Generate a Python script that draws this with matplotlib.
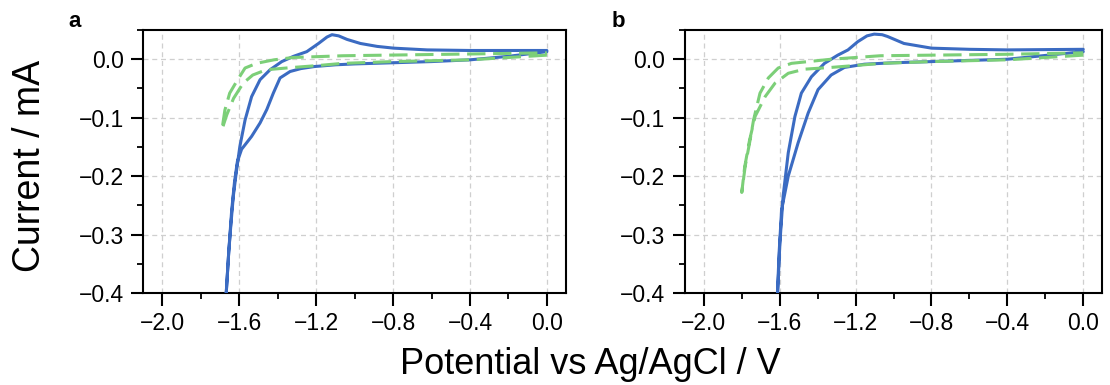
import numpy as np
import matplotlib
matplotlib.use('Agg')
import matplotlib.pyplot as plt
from matplotlib.ticker import MultipleLocator

plt.rcParams['font.family'] = ['Liberation Sans', 'DejaVu Sans']

# panel a, blue (solid) CV: cathodic sweep then anodic sweep
a_blue_x = [0.0, -0.2, -0.4, -0.6, -0.8, -1.0, -1.1, -1.21, -1.28, -1.336, -1.388, -1.423,
            -1.457, -1.492, -1.536, -1.588, -1.61, -1.625, -1.64, -1.655, -1.668, -1.675,
            -1.668, -1.655, -1.643, -1.631, -1.614, -1.597, -1.57, -1.536, -1.492, -1.44,
            -1.379, -1.318, -1.249, -1.188, -1.144, -1.118, -1.083, -1.04, -0.97, -0.883,
            -0.797, -0.623, -0.4, -0.2, 0.0]
a_blue_y = [0.013, 0.005, -0.001, -0.004, -0.006, -0.008, -0.0095, -0.0125, -0.016, -0.021,
            -0.032, -0.058, -0.086, -0.109, -0.132, -0.154, -0.175, -0.21, -0.26, -0.33,
            -0.4, -0.44,
            -0.4, -0.33, -0.28, -0.234, -0.189, -0.149, -0.104, -0.064, -0.035, -0.018,
            -0.004, 0.005, 0.013, 0.027, 0.038, 0.042, 0.040, 0.034, 0.027, 0.022,
            0.019, 0.016, 0.015, 0.015, 0.015]

# panel a, green (dashed) CV
a_green_x = [0.0, -0.4, -0.8, -1.06, -1.2, -1.32, -1.46, -1.53, -1.58, -1.63, -1.665, -1.69,
             -1.675, -1.65, -1.614, -1.57, -1.51, -1.42, -1.32, -1.06, -0.4, 0.0]
a_green_y = [0.007, -0.001, -0.004, -0.007, -0.011, -0.014, -0.018, -0.027, -0.041, -0.067,
             -0.095, -0.12,
             -0.087, -0.058, -0.038, -0.015, -0.007, -0.001, 0.003, 0.006, 0.009, 0.011]

# panel b, blue (solid) CV
b_blue_x = [0.0, -0.4, -0.8, -1.0, -1.154, -1.259, -1.329, -1.398, -1.45, -1.503, -1.555,
            -1.59, -1.603, -1.612, -1.616,
            -1.611, -1.599, -1.582, -1.555, -1.52, -1.486, -1.433, -1.364, -1.294, -1.24,
            -1.189, -1.14, -1.102, -1.06, -1.032, -0.945, -0.8, -0.6, -0.4, 0.0]
b_blue_y = [0.013, 0.0, -0.004, -0.006, -0.0085, -0.014, -0.027, -0.052, -0.092, -0.143,
            -0.2, -0.257, -0.33, -0.4, -0.44,
            -0.4, -0.314, -0.234, -0.16, -0.098, -0.058, -0.030, -0.007, 0.007, 0.016,
            0.030, 0.040, 0.043, 0.042, 0.039, 0.027, 0.019, 0.017, 0.016, 0.017]

# panel b, green (dashed) CV
b_green_x = [0.0, -0.4, -0.8, -1.06, -1.33, -1.47, -1.555, -1.625, -1.677, -1.73, -1.76,
             -1.785, -1.8,
             -1.782, -1.756, -1.738, -1.704, -1.66, -1.608, -1.538, -1.33, -1.07, -0.4, 0.0]
b_green_y = [0.007, -0.001, -0.004, -0.007, -0.014, -0.017, -0.024, -0.041, -0.064, -0.098,
             -0.14, -0.185, -0.228,
             -0.183, -0.138, -0.104, -0.058, -0.032, -0.015, -0.007, 0.0, 0.006, 0.0085, 0.011]

x_ticks = [-2.0, -1.6, -1.2, -0.8, -0.4, 0.0]
y_ticks = [-0.4, -0.3, -0.2, -0.1, 0.0]

blue = '#3b6bc2'
green = '#7ccf78'

fig = plt.figure(figsize=(11.1, 3.85), dpi=100)
ax_a = fig.add_axes([0.129, 0.239, 0.381, 0.683])
ax_b = fig.add_axes([0.617, 0.239, 0.376, 0.683])

panels = [(ax_a, a_blue_x, a_blue_y, a_green_x, a_green_y, 'a', 0.067),
          (ax_b, b_blue_x, b_blue_y, b_green_x, b_green_y, 'b', 0.557)]

for ax, bx, by, gx, gy, lab, lx in panels:
    ax.plot(bx, by, color=blue, lw=2.2, solid_joinstyle='round', solid_capstyle='round', zorder=3)
    ax.plot(gx, gy, color=green, lw=2.2, dashes=(6, 2.5), dash_joinstyle='round', zorder=4)
    ax.set_xlim(-2.1, 0.1)
    ax.set_ylim(-0.4, 0.05)
    ax.set_xticks(x_ticks)
    ax.set_yticks(y_ticks)
    ax.set_xticklabels([f'{v:.1f}'.replace('-', '\u2212') for v in x_ticks])
    ax.set_yticklabels([f'{v:.1f}'.replace('-', '\u2212') if v != 0 else '0.0' for v in y_ticks])
    ax.xaxis.set_minor_locator(MultipleLocator(0.2))
    ax.yaxis.set_minor_locator(MultipleLocator(0.05))
    ax.tick_params(which='major', direction='out', length=9, width=1.5, labelsize=16.5, pad=5)
    ax.tick_params(which='minor', direction='out', length=4.5, width=1.3)
    ax.grid(True, which='major', color='#cfcfcf', lw=0.9, ls=(0, (4, 3)))
    for s in ax.spines.values():
        s.set_linewidth(1.5)
    fig.text(lx, 0.945, lab, fontsize=16, fontweight='bold', ha='center', va='center')

fig.text(0.027, 0.57, 'Current / mA', rotation=90, ha='center', va='center', fontsize=27)
fig.text(0.532, 0.052, 'Potential vs Ag/AgCl / V', ha='center', va='center', fontsize=26)

fig.savefig('out.png', dpi=100)
